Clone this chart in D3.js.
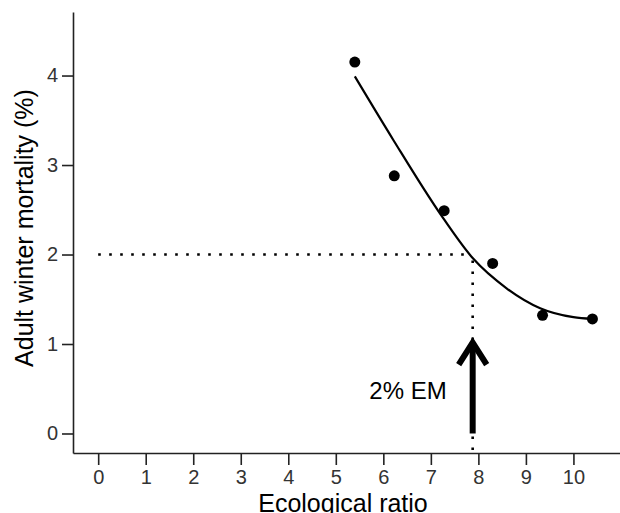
<!DOCTYPE html>
<meta charset="utf-8">
<script src="https://d3js.org/d3.v7.min.js"></script>
<style>
  body { margin: 0; background: #fff; }
  text { font-family: "Liberation Sans", Arial, sans-serif; }
</style>
<div id="chart"></div>
<script>
  // observed points
  var ratio = [5.40, 6.23, 7.28, 8.30, 9.35, 10.40];
  var mortality = [4.15, 2.88, 2.49, 1.90, 1.32, 1.28];

  // fitted curve
  var fitRatio = [5.40, 6.21, 7.19, 7.88, 8.60, 9.30, 10.0, 10.40];
  var fitMortality = [3.99, 3.28, 2.46, 1.96, 1.62, 1.40, 1.30, 1.28];

  var xTicks = [0, 1, 2, 3, 4, 5, 6, 7, 8, 9, 10];
  var yTicks = [0, 1, 2, 3, 4];

  // threshold: 2% mortality reached at ratio ~7.88
  var emLevel = 2;
  var emRatio = 7.88;
  var arrowFrom = 0;
  var arrowTo = 1.05;

  var width = 620, height = 513;

  var svg = d3.select("#chart").append("svg")
      .attr("width", width)
      .attr("height", height);

  var x = d3.scaleLinear().domain([-0.53, 10.98]).range([73, 620]);
  var y = d3.scaleLinear().domain([-0.218, 4.71]).range([453, 12]);

  // axes
  var xAxis = svg.append("g")
      .attr("transform", "translate(0," + y.range()[0] + ")")
      .call(d3.axisBottom(x).tickValues(xTicks).tickFormat(d3.format("d"))
        .tickSize(12).tickPadding(5).tickSizeOuter(0));
  var yAxis = svg.append("g")
      .attr("transform", "translate(" + x.range()[0] + ",0)")
      .call(d3.axisLeft(y).tickValues(yTicks).tickFormat(d3.format("d"))
        .tickSize(11).tickPadding(4).tickSizeOuter(0));

  [xAxis, yAxis].forEach(function(g) {
    g.select(".domain").attr("stroke", "#222").attr("stroke-width", 1.6);
    g.selectAll(".tick line").attr("stroke", "#222").attr("stroke-width", 1.6);
    g.selectAll(".tick text")
        .attr("fill", "#333")
        .style("font-size", "20px")
        .style("font-family", "'Liberation Sans', Arial, sans-serif");
  });

  // dotted guide lines
  svg.append("line")
      .attr("x1", x(0)).attr("x2", x(emRatio) - 4)
      .attr("y1", y(emLevel)).attr("y2", y(emLevel))
      .attr("stroke", "#000").attr("stroke-width", 2.6)
      .attr("stroke-dasharray", "2.6,8.4");
  svg.append("line")
      .attr("x1", x(emRatio)).attr("x2", x(emRatio))
      .attr("y1", y(emLevel) + 6).attr("y2", y.range()[0] - 3)
      .attr("stroke", "#000").attr("stroke-width", 2.6)
      .attr("stroke-dasharray", "2.6,8.4");

  // arrow
  svg.append("line")
      .attr("x1", x(emRatio)).attr("x2", x(emRatio))
      .attr("y1", y(arrowFrom)).attr("y2", y(arrowTo) + 3)
      .attr("stroke", "#000").attr("stroke-width", 6);
  svg.append("path")
      .attr("d", "M" + (x(emRatio) - 14) + "," + (y(arrowTo) + 25) +
                 "L" + x(emRatio) + "," + (y(arrowTo) + 3) +
                 "L" + (x(emRatio) + 14) + "," + (y(arrowTo) + 25))
      .attr("fill", "none").attr("stroke", "#000").attr("stroke-width", 6)
      .attr("stroke-linejoin", "miter");

  svg.append("text")
      .attr("x", x(emRatio) - 26).attr("y", y(arrowTo) + 59)
      .attr("text-anchor", "end")
      .style("font-size", "24px")
      .text("2% EM");

  // fitted curve
  var line = d3.line()
      .x(function(d) { return x(d[0]); })
      .y(function(d) { return y(d[1]); })
      .curve(d3.curveMonotoneX);
  svg.append("path")
      .datum(d3.zip(fitRatio, fitMortality))
      .attr("d", line)
      .attr("fill", "none").attr("stroke", "#000").attr("stroke-width", 2.2);

  // points
  svg.selectAll("circle.pt")
      .data(d3.zip(ratio, mortality))
      .enter().append("circle")
      .attr("class", "pt")
      .attr("cx", function(d) { return x(d[0]); })
      .attr("cy", function(d) { return y(d[1]); })
      .attr("r", 5.5)
      .attr("fill", "#000");

  // axis titles
  svg.append("text")
      .attr("x", 343).attr("y", 512)
      .attr("text-anchor", "middle")
      .style("font-size", "25px")
      .text("Ecological ratio");
  svg.append("text")
      .attr("transform", "translate(33,228) rotate(-90)")
      .attr("text-anchor", "middle")
      .style("font-size", "25px")
      .text("Adult winter mortality (%)");
</script>
